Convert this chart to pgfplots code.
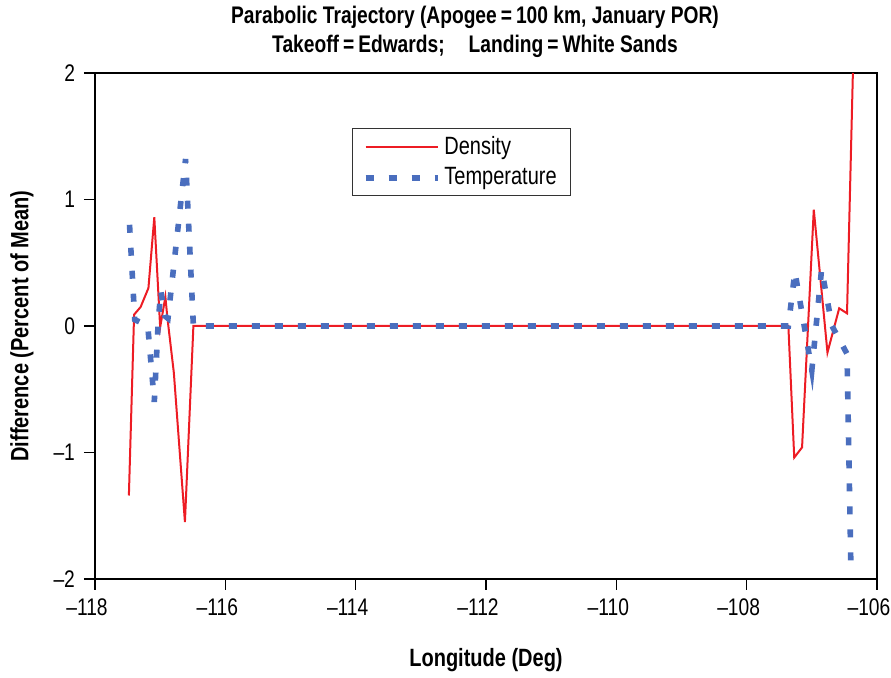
\documentclass[border=0pt]{standalone}
\usepackage{fontspec}
\setmainfont{Liberation Sans}
\newfontfamily\narrowbold[FakeStretch=0.8]{Liberation Sans Bold}
\newfontfamily\narrow[FakeStretch=0.8]{Liberation Sans}
\usepackage{pgfplots}
\pgfplotsset{compat=1.18}
\definecolor{dens}{HTML}{ED1C24}
\definecolor{temp}{HTML}{4A6EBE}
\begin{document}
\begin{tikzpicture}
\path[use as bounding box] (-47.5pt,-49.5pt) rectangle (398pt,289.5pt);
\begin{axis}[
  scale only axis,
  width=391pt, height=253pt,
  xmin=-118, xmax=-106, ymin=-2, ymax=2,
  xtick={-118,-116,...,-106},
  xticklabels={–118,–116,–114,–112,–110,–108,–106},
  ytick={-2,-1,0,1,2},
  yticklabels={–2,–1,0,1,2},
  tick align=outside,
  major tick length=5.5pt,
  xtick pos=bottom, ytick pos=left,
  axis line style={line width=1.1pt},
  tick style={line width=0.6pt, black},
  ticklabel style={font=\narrow\fontsize{12}{14}\selectfont},
  xticklabel style={anchor=north, xshift=-4pt, yshift=-1pt},
  yticklabel style={xshift=-1pt},
  xlabel={Longitude (Deg)},
  ylabel={Difference (Percent of Mean)},
  label style={font=\narrowbold\fontsize{12.5}{14}\selectfont},
  xlabel style={at={(axis description cs:0.5,-0.16)}, anchor=center},
  ylabel style={at={(axis description cs:-0.0934,0.5)}, anchor=center},
  title={Parabolic Trajectory (Apogee\,=\,100 km, January POR)\\Takeoff\,=\,Edwards;\quad Landing\,=\,White Sands},
  title style={font=\narrowbold\fontsize{12}{14.5}\selectfont, align=center,
    at={(0.5,1)}, anchor=south, yshift=-2pt, xshift=-5.5pt},
  legend style={at={(0.329,0.891)}, anchor=north west, draw=black!80, line width=0.5pt,
    font=\narrow\fontsize{12.5}{14}\selectfont, inner xsep=5pt, inner ysep=2pt,
    row sep=1pt},
  legend cell align=left,
  legend image code/.code={\draw[#1] (0pt,0pt) -- (36pt,0pt);},
]
\addplot[dens, line width=1pt] coordinates {
  (-117.48,-1.34) (-117.40,0.09) (-117.30,0.15) (-117.18,0.30) (-117.09,0.86)
  (-117.00,-0.01) (-116.92,0.23) (-116.89,0.07) (-116.79,-0.37) (-116.62,-1.55)
  (-116.49,0.0) (-107.36,0.0) (-107.27,-1.04) (-107.15,-0.96) (-106.97,0.92)
  (-106.76,-0.21) (-106.58,0.14) (-106.46,0.10) (-106.37,2.0)
};
\addlegendentry{Density}
\addplot[temp, line width=2.8pt, dash pattern=on 4pt off 7.5pt] coordinates {
  (-117.47,0.80) (-117.39,0.05) (-117.19,0.0) (-117.09,-0.60) (-117.03,0.03)
  (-116.99,0.28) (-116.93,0.08) (-116.88,0.06) (-116.61,1.32) (-116.49,0.0)
  (-107.36,0.0) (-107.26,0.43) (-107.00,-0.35) (-106.85,0.45) (-106.69,0.0)
  (-106.46,-0.22) (-106.40,-1.92)
};
\addlegendentry{Temperature}
\end{axis}
\end{tikzpicture}
\end{document}
